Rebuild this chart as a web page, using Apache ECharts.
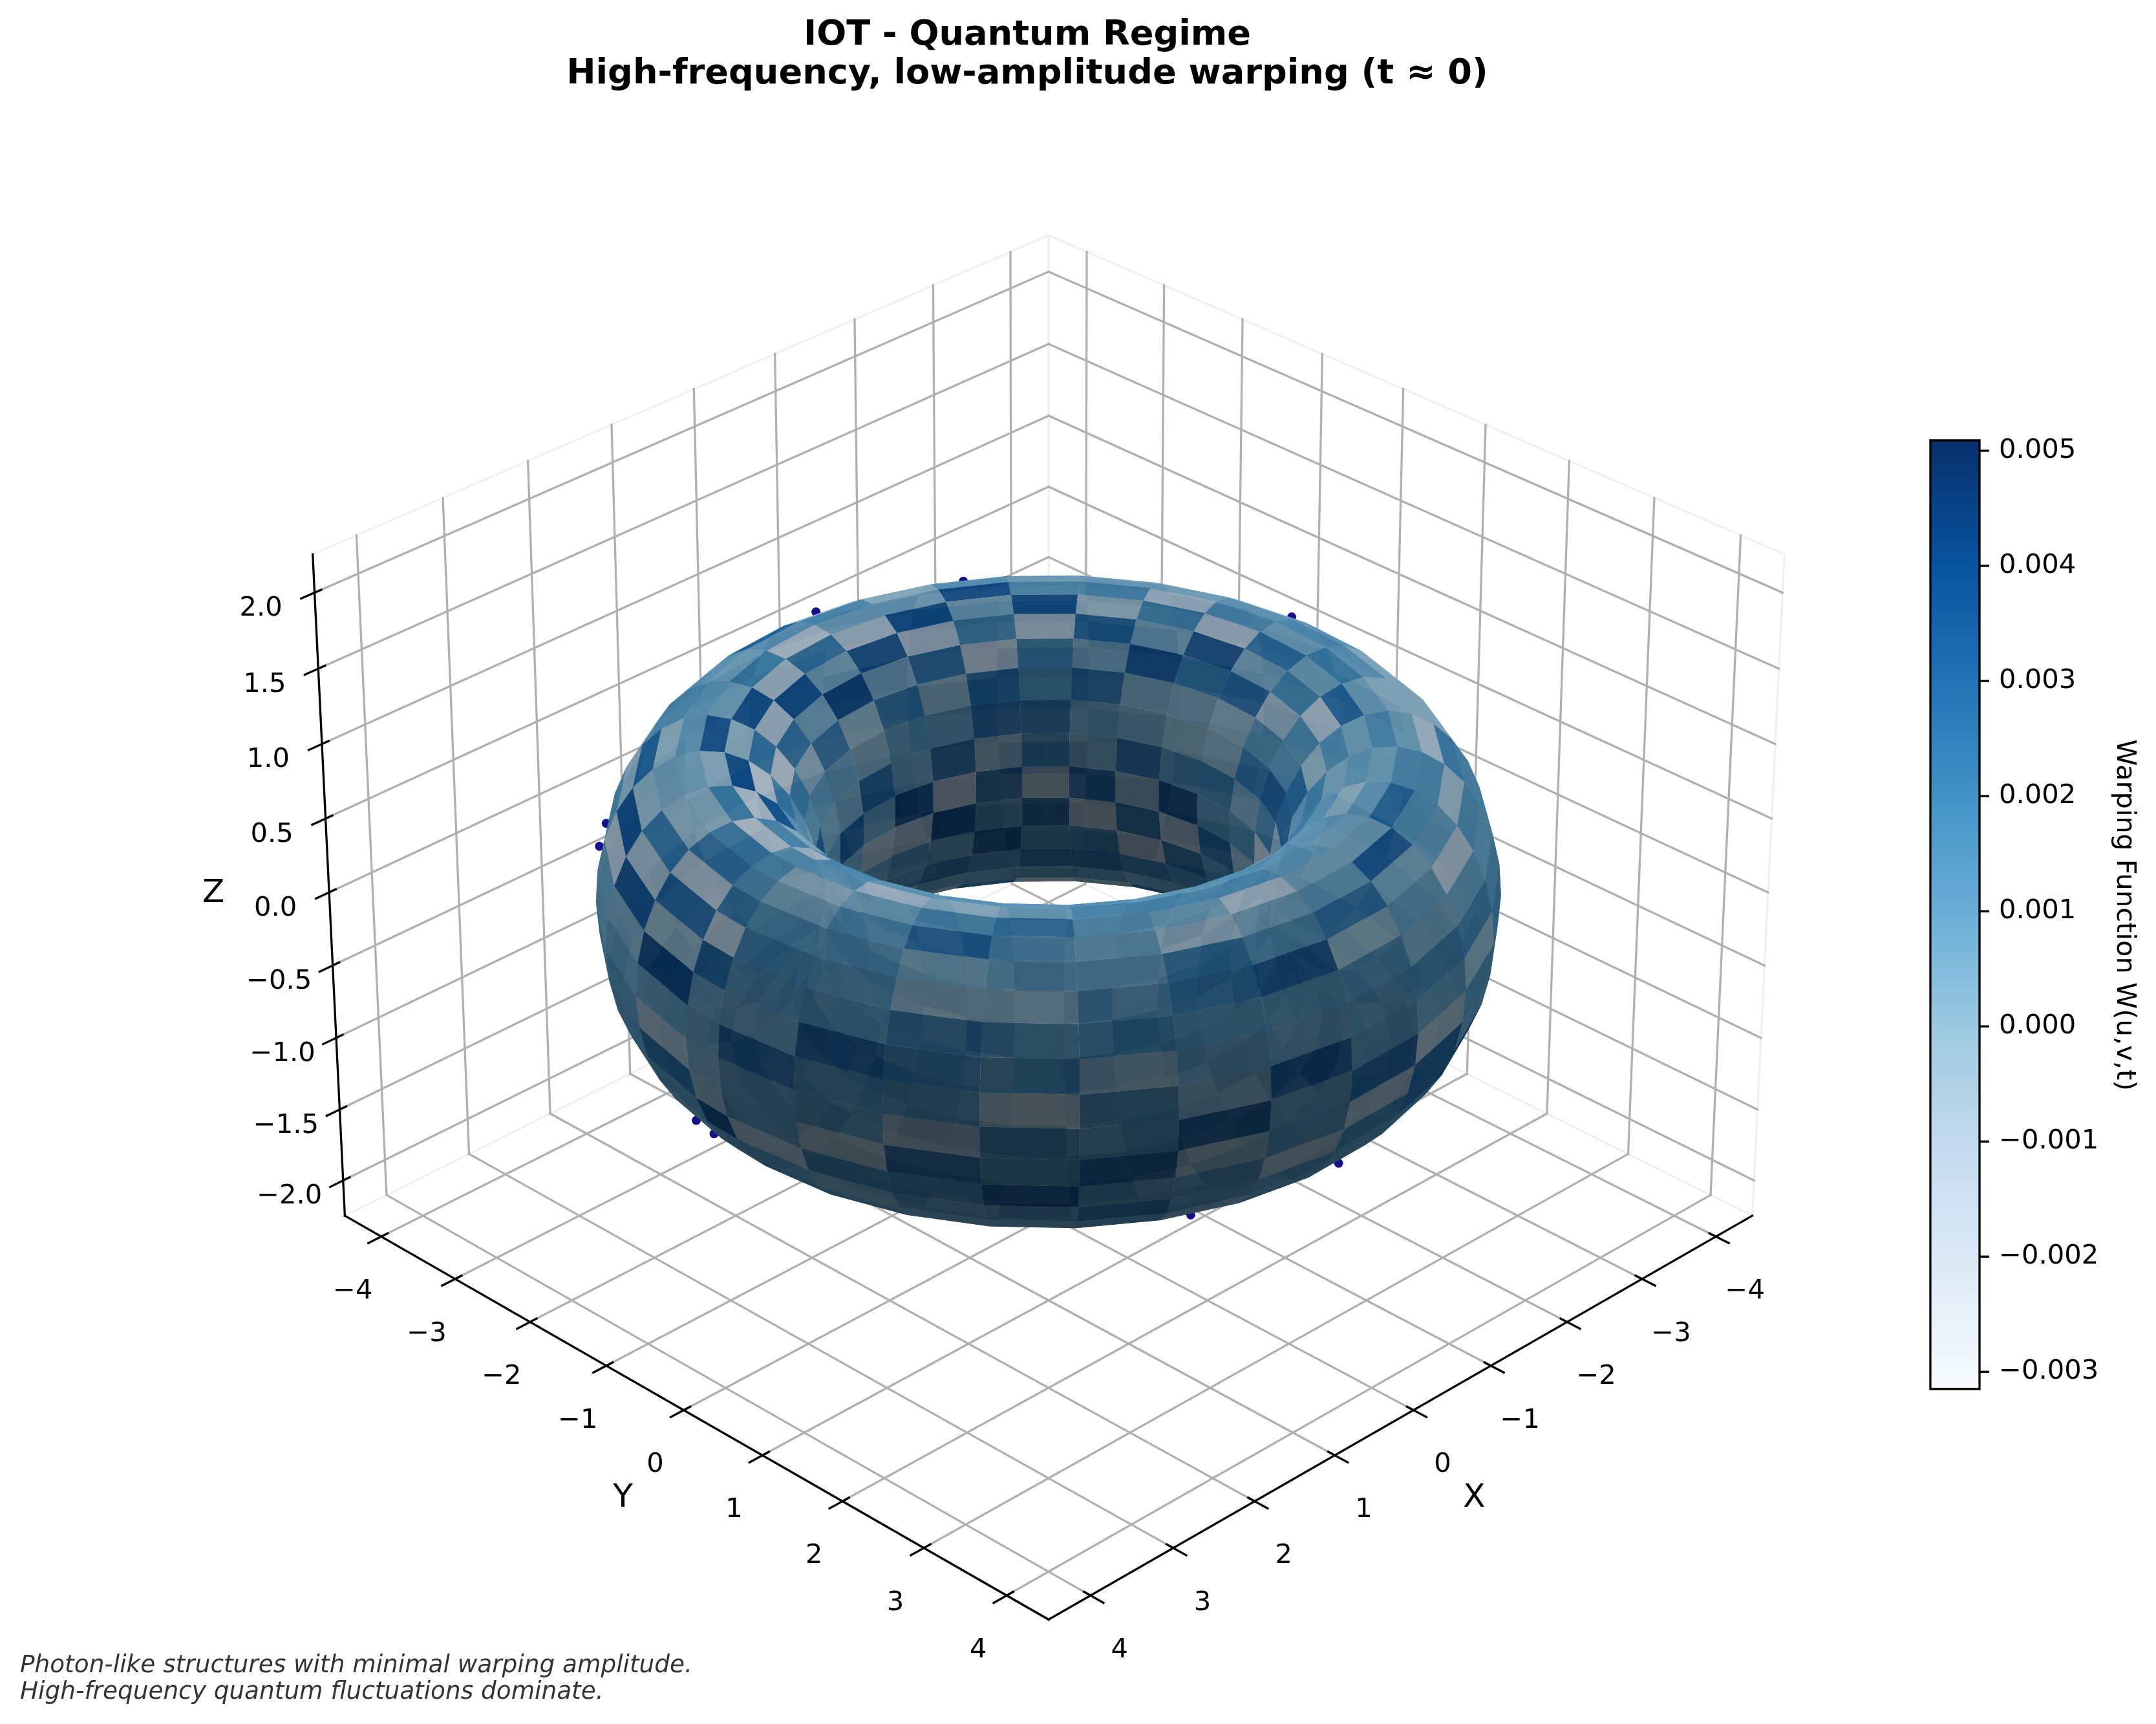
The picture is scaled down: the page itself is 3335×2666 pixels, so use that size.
<!DOCTYPE html>
<html><head><meta charset="utf-8">
<script src="https://cdn.jsdelivr.net/npm/echarts@6/dist/echarts.min.js"></script>
<style>html,body{margin:0;background:#fff}#c{width:3335px;height:2666px}</style></head>
<body><div id="c"></div><script>
const xTicks=[-4,-3,-2,-1,0,1,2,3,4];
const yTicks=[-4,-3,-2,-1,0,1,2,3,4];
const zTicks=[-2,-1.5,-1,-0.5,0,0.5,1,1.5,2];
const cbarTicks=[-0.003,-0.002,-0.001,0,0.001,0.002,0.003,0.004,0.005];
const cbarRange=[-0.00315,0.00509];
// W(u,v,t) x 1000 per surface cell, one row per u step, one column per v step (v = 0..28)
const warpMilli=[
/*u0 */[3.2,1,1.5,2,1.5,.5,-.1,1,1.5, 3,0,1,2,-1,3,1,0,3.5,1,-1,2,3,0,1,2, 1.5,-.6,1.5,1.5],
/*u1 */[2,3.5,1.5,1.5,1.5,1.5,.5,-1.1,1, 0,2,3.5,0,1,3,-1,1,2,3.5,0,1,3,-1,1, 1.5,.5,2,-.6,1.5],
/*u2 */[1.5,2.5,2.5,-.1,.5,3,1.5,-.1,1, 2,-1,1,3,0,2,3.5,-1,1,3,0,2,-1,1,0, 1,1.5,2,3.2,-.6],
/*u3 */[-.6,2,1.5,-.1,1,1.5,2.5,.5,1, 1,3,-1,1,3.5,0,1,2,-1,3,1,0,3.5,1,-1, 1,1.5,3.9,2,2],
/*u4 */[2,-.1,2,1.5,1,1,1,1.5,1, 3.5,0,2,-1,1,3,0,3.5,1,-1,2,3,0,1,2, 1.5,3,1.5,3.5,1.5],
/*u5 */[.5,1,1.5,2.5,2.5,-.6,.5,1.5,1, -1,2,3,0,1,-1,3,1,0,2,3.5,-1,1,3,0, .5,1.5,1.5,-.1,3.9],
/*u6 */[3.5,1,1.5,3.5,1.5,.5,-1.1,1.5,1, 2,0,1,3.5,-1,2,1,3,0,1,-1,3,2,0,1, 1.5,1.5,-.6,1.5,1.5],
/*u7 */[1.5,1.5,1.5,-.1,2.5,1,.5,1,1, 0,3,1,-1,2,3.5,0,1,3,-1,1,2,0,3.5,1, 1.5,1.5,2,-.6,3.2],
/*u8 */[1,2,.5,1,.5,3.5,.5,.5,1, 1,3,0,2,-1,1,3.5,0,2,3,-1,1,0,2,1, 1.5,1.5,3,3.2,-.6],
/*u9 */[-.1,2,1,-1.1,1,1.5,3,1,-.1, 1,2,3.5,-1,1,3,0,2,-1,1,3.5,0,2,1,3, 1.5,2,3.5,1,1.5],
/*u10*/[2,1.5,1,1.5,-.6,1.5,1.5,.5,1,.5,2, 1,3.5,0,-1,2,3,1,0,3.5,-1,1,2,0,1,2, 3,2,2],
/*u11*/[1.5,1.5,1.5,1.5,2,-1.1,.5,1.5,.5,1.5,-.1,3,3.2, 0,2,-1,1,3.5,0,3,1,-1,2,0,1,3,2,1,1.5],
/*u12*/[1,1,1,1,-.1,-.1,-.1,.5,3,-1.1,1.5,1.5,3.5,2,-1.6, 1,3,0,2,-1,1,3.5,0,3,1,2,0,1,1],
/*u13*/[1,1,1,1,1,-.1,1,2,.5,2,-.6,1.5,2.5,.5,1.5,-.1,1.5, 3,0,1,3.5,-1,2,0,3,1,-1,2,1],
/*u14*/[1,3,0,2,1,1,1.5,.5,2.5,.5,3,-.1,-.1,2,1.5,3.2,2,1.5, 0,3,1,-1,2,3.5,0,1,3,-1,1],
/*u15*/[0,2,3,1,-1,.5,1,1.5,-1.1,3.9,2.5,.5,-.1,1.5,4.2,-.6,3.2,2,1.5, 1,-1,3,0,2,3.5,-1,1,0,2],
/*u16*/[2,-1,1,3.5,0,.5,.5,-1.1,2,.5,3.9,.5,.5,3,-.1,3.2,-1.1,2.5,1, 3,0,1,2,-1,3,0,3.5,1,-1],
/*u17*/[1,3,0,2,3.5,-1,.5,1.5,-.6,3.2,.5,3,1,.5,3.2,-1.1,2,3,1.5, 0,2,-1,1,3.5,0,3,1,2,0],
/*u18*/[3.5,0,2,-1,1,3,.5,1.5,3.9,-1.1,2,1.5,3,2,-.6,3.5,1.5,3,1, -1,1,3,0,2,1,-1,3.5,0,2],
/*u19*/[0,1,3,-1,2,0,1,3.9,.5,2,-1.1,3,3,-.1,3,1.5,4.2,2,1, 2,3.5,0,1,-1,3,1,0,2,3.5],
/*u20*/[3,-1,1,3.5,0,2,-.1,.5,3.9,-1.1,3,-.1,1,3.2,-1.1,4.2,1.5,3,1, 0,1,3,-1,2,0,3.5,1,-1,1],
/*u21*/[1,2,0,3,1,-1,1.5,.5,-1.1,3.9,.5,2.5,1.5,1,4.2,-.6,1.5,2,0, 3,1,-1,2,0,3.5,1,3,-1,1],
/*u22*/[-1,1,3.5,0,2,3,1,-1.6,2.5,.5,4.2,-.1,.5,3.2,1,-.6,1, 3,0,1,-1,3.5,2,0,1,3,-1,2,0],
/*u23*/[2,0,1,3,-1,1,.5,2,-1.1,3.9,.5,2.5,1,.5,3.5,1, 0,2,3.5,-1,1,3,0,2,-1,1,3.5,0,1],
/*u24*/[1,3,-1,1,1.5,1.5,1,.5,3.9,-1.1,2.5,-.1,1,.5,1, 2,0,3,1,-1,3.5,0,1,2,3,-1,1,0,2],
/*u25*/[0,2,1.5,-.1,3.2,-.1,1,3.9,-.1,2.5,-1.6,2,1, 3,1,-1,2,0,3.5,1,-1,3,0,2,1,0,3,1,1.5],
/*u26*/[1,1,-1.1,3.9,-.1,.5,.5,-.1,3.9,-1.6,2,1, 0,3,1,-1,2,3.5,0,1,3,-1,1,2,0,1.5,1.5,1,1.5],
/*u27*/[1,.5,3.9,-.6,2.5,-.1,-.1,2,-1.6,3.5,1, 2,0,-1,3,1,0,3.5,1,-1,2,0,3,1,1,1.5,1.5,1.5,1.5],
/*u28*/[1,4.2,-.1,3,-1.1,2.5,2,-1.6,1.5, 0,3,1,-1,2,3.5,0,1,3,-1,1,2,0,1,3,1,1, 1.5,3,-.6],
/*u29*/[1,1,3.2,-1.1,2.5,1.5,1.5,1,-1.1, 2,0,3.5,1,-1,3,0,2,1,-1,3,0,1,2,1,1.5,1.5, 4.2,-.1,.5]
];
// Surface grid: major-circle breakpoints (last step is half width) and minor-circle steps
const uSteps=[0,2,4,6,8,10,12,14,16,18,20,22,24,26,28,30,32,34,36,38,40,42,44,46,48,50,52,54,56,58,59];
const uSamples=59, vSamples=29;
// Photon-like markers (x,y,z) visible just past the silhouette
const photonX=[-1.803,-0.445,2.81,3.128,3.515,3.557,-3.417,0.069,1.576];
const photonY=[-2.90,-3.42,-2.69,-2.431,-0.831,-0.559,-0.311,3.617,3.298];
const photonZ=[0.9,0.9,0.5,0.5,-0.8,-0.8,0.9,-0.8,-0.8];
const blues=['#f7fbff','#deebf7','#c6dbef','#9ecae1','#6baed6','#4292c6','#2171b5','#08519c','#08306b'];

const chart=echarts.init(document.getElementById('c'),null,{renderer:'canvas'});
const S=13220,CX=1622,CY=1380,XL=4.5,ZL=2.25;
const bx=1.1905,bz=0.8929,ALPHA=0.9,FS=41.67;
const e=Math.PI/6,a=Math.PI/4;
const n=[Math.cos(e)*Math.cos(a),Math.cos(e)*Math.sin(a),Math.sin(e)];
const U=[-Math.SQRT1_2,Math.SQRT1_2,0],V=[-n[2]*Math.SQRT1_2,-n[2]*Math.SQRT1_2,Math.cos(e)];
function proj(x,y,z){const p=[x/(2*XL)*bx,y/(2*XL)*bx,z/(2*ZL)*bz];
 const d=10-(p[0]*n[0]+p[1]*n[1]+p[2]*n[2]);
 return [(p[0]*U[0]+p[1]*U[1])/d,(p[0]*V[0]+p[1]*V[1]+p[2]*V[2])/d,d];}
const P=(u,v)=>{const r=3+Math.cos(v);return [r*Math.cos(u),r*Math.sin(u),Math.sin(v)];};
const cross=(a,b)=>[a[1]*b[2]-a[2]*b[1],a[2]*b[0]-a[0]*b[2],a[0]*b[1]-a[1]*b[0]];
const sub=(a,b)=>[a[0]-b[0],a[1]-b[1],a[2]-b[2]];
function blueAt(w){const t=Math.min(1,Math.max(0,(w-cbarRange[0])/(cbarRange[1]-cbarRange[0])));
 return echarts.color.parse(echarts.color.lerp(t,blues));}
const cells=[];
for(let i=0;i<uSteps.length-1;i++)for(let j=0;j<vSamples;j++){
 const u0=uSteps[i]/uSamples*2*Math.PI,u1=uSteps[i+1]/uSamples*2*Math.PI,v0=j/vSamples*2*Math.PI,v1=(j+1)/vSamples*2*Math.PI;
 const c=[P(u0,v0),P(u1,v0),P(u1,v1),P(u0,v1)];
 const pr=c.map(q=>proj(q[0],q[1],q[2]));
 const nn=cross(sub(c[2],c[0]),sub(c[3],c[1]));const l=Math.hypot(...nn);
 const dot=(nn[0]*-0.6667+nn[1]*-0.6667+nn[2]*0.3333)/l;
 const f=0.3+0.7*(dot+1)/2;const b=blueAt(warpMilli[i][j]/1000);
 cells.push({pr,depth:pr.reduce((s,q)=>s+q[2],0)/4,
  fill:`rgba(${Math.round(b[0]*f)},${Math.round(b[1]*f)},${Math.round(b[2]*f)},${ALPHA})`});
}
cells.sort((p,q)=>q.depth-p.depth);
// frame
const segs=[];const GRID='#b0b0b0',EDGE='#f0f0f0',AX='#000';
const add=(A,B,col)=>segs.push({A,B,col});
const xa=XL,ya=XL,za=ZL;
[[[xa,-ya,-za],[-xa,-ya,-za]],[[-xa,-ya,-za],[-xa,ya,-za]],[[-xa,-ya,-za],[-xa,-ya,za]],[[-xa,ya,-za],[-xa,ya,za]],[[xa,-ya,za],[-xa,-ya,za]],[[-xa,-ya,za],[-xa,ya,za]]].forEach(s=>add(s[0],s[1],EDGE));
xTicks.forEach(x=>{add([x,ya,-za],[x,-ya,-za],GRID);add([x,-ya,-za],[x,-ya,za],GRID);});
yTicks.forEach(y=>{add([xa,y,-za],[-xa,y,-za],GRID);add([-xa,y,-za],[-xa,y,za],GRID);});
zTicks.forEach(z=>{add([xa,-ya,z],[-xa,-ya,z],GRID);add([-xa,-ya,z],[-xa,ya,z],GRID);});
add([xa,ya,-za],[xa,-ya,-za],AX);add([xa,ya,-za],[-xa,ya,-za],AX);add([xa,-ya,-za],[xa,-ya,za],AX);
const TO=0.154,TI=0.077;
xTicks.forEach(x=>add([x,ya+TO,-za],[x,ya-TI,-za],AX));
yTicks.forEach(y=>add([xa+TO,y,-za],[xa-TI,y,-za],AX));
zTicks.forEach(z=>add([xa+TO,-ya,z],[xa-TI,-ya,z],AX));
const fmt=(v,d)=>(v<0?'\u2212':'')+Math.abs(v).toFixed(d);
const texts=[];
xTicks.forEach(x=>texts.push({p:[x,ya,-za],dx:45,dy:85,t:fmt(x,0),fs:FS}));
yTicks.forEach(y=>texts.push({p:[xa,y,-za],dx:-44,dy:85,t:fmt(y,0),fs:FS}));
zTicks.forEach(z=>texts.push({p:[xa,-ya,z],dx:-83,dy:25,t:fmt(z,1),fs:FS}));
texts.push({p:[0,ya,-za],dx:94,dy:136,t:'X',fs:50});
texts.push({p:[xa,0,-za],dx:-94,dy:136,t:'Y',fs:50});
texts.push({p:[xa,-ya,0],dx:-179,dy:2,t:'Z',fs:50});

const photons=photonX.map((x,k)=>{const q=proj(x,photonY[k],photonZ[k]);return [q[0],q[1]];});

chart.setOption({animation:false,
 title:[{text:'IOT - Quantum Regime\nHigh-frequency, low-amplitude warping (t \u2248 0)',left:1584,top:20,textAlign:'center',
   textStyle:{fontFamily:'DejaVu Sans',fontWeight:'bold',fontSize:54.2,lineHeight:60,color:'#000'}},
  {text:'Photon-like structures with minimal warping amplitude.\nHigh-frequency quantum fluctuations dominate.',left:26,top:2551,
   textStyle:{fontFamily:'DejaVu Sans',fontStyle:'italic',fontWeight:'normal',fontSize:37.4,lineHeight:41,color:'#333'}}],
 grid:[{left:0,top:0,width:3335,height:2666},{left:2986,top:681,width:76,height:1467}],
 xAxis:[{type:'value',show:false,min:-CX/S,max:(3335-CX)/S,gridIndex:0},{type:'value',show:false,min:0,max:1,gridIndex:1}],
 yAxis:[{type:'value',show:false,min:(CY-2666)/S,max:CY/S,gridIndex:0},
  {type:'value',gridIndex:1,position:'right',min:cbarRange[0],max:cbarRange[1],scale:true,
   axisLine:{show:false},splitLine:{show:false},axisTick:{show:false},
   axisLabel:{show:true,margin:30,customValues:cbarTicks,color:'#000',fontFamily:'DejaVu Sans',fontSize:FS,padding:[12,0,0,0],
     formatter:v=>fmt(v,3)}}],
 graphic:[{type:'text',x:3286,y:1415,rotation:-Math.PI/2,style:{text:'Warping Function W(u,v,t)',textAlign:'center',textVerticalAlign:'middle',fill:'#000',font:FS+'px "DejaVu Sans"'}}],
 series:[
 {type:'custom',xAxisIndex:0,yAxisIndex:0,z:1,silent:true,clip:false,data:segs.map((s,k)=>[k]),
  renderItem(p,api){const s=segs[api.value(0)];const A=proj(...s.A),B=proj(...s.B);
   const a1=api.coord([A[0],A[1]]),b1=api.coord([B[0],B[1]]);
   return {type:'line',shape:{x1:a1[0],y1:a1[1],x2:b1[0],y2:b1[1]},style:{stroke:s.col,lineWidth:3.3,lineCap:'square'}};}},
 {type:'scatter',xAxisIndex:0,yAxisIndex:0,z:2,silent:true,data:photons,symbolSize:14,itemStyle:{color:'#14108c',opacity:1}},
 {type:'custom',xAxisIndex:0,yAxisIndex:0,z:3,silent:true,clip:false,progressive:0,data:cells.map((c,k)=>[k]),
  renderItem(p,api){const c=cells[api.value(0)];
   return {type:'polygon',shape:{points:c.pr.map(q=>api.coord([q[0],q[1]]))},style:{fill:c.fill}};}},
 {type:'custom',xAxisIndex:0,yAxisIndex:0,z:4,silent:true,clip:false,data:texts.map((t,k)=>[k]),
  renderItem(p,api){const t=texts[api.value(0)];const q=proj(...t.p);const c=api.coord([q[0],q[1]]);
   return {type:'text',style:{x:c[0]+t.dx,y:c[1]+t.dy,text:t.t,fill:'#000',font:t.fs+'px "DejaVu Sans"',textAlign:'center',textVerticalAlign:'middle'}};}},
 {type:'custom',xAxisIndex:1,yAxisIndex:1,z:5,silent:true,clip:false,data:[[0,cbarRange[0],1,cbarRange[1]]],
  renderItem(p,api){const A=api.coord([api.value(0),api.value(1)]),B=api.coord([api.value(2),api.value(3)]);
   const ticks=cbarTicks.map(v=>{const q=api.coord([1,v]);
     return {type:'line',shape:{x1:q[0],y1:q[1],x2:q[0]+15,y2:q[1]},style:{stroke:'#000',lineWidth:3.3}};});
   return {type:'group',children:[{type:'rect',shape:{x:A[0],y:B[1],width:B[0]-A[0],height:A[1]-B[1]},
    style:{stroke:'#000',lineWidth:3.3,fill:new echarts.graphic.LinearGradient(0,1,0,0,blues.map((c,k)=>({offset:k/8,color:c})))}}].concat(ticks)};}}
 ]
});
</script></body></html>
